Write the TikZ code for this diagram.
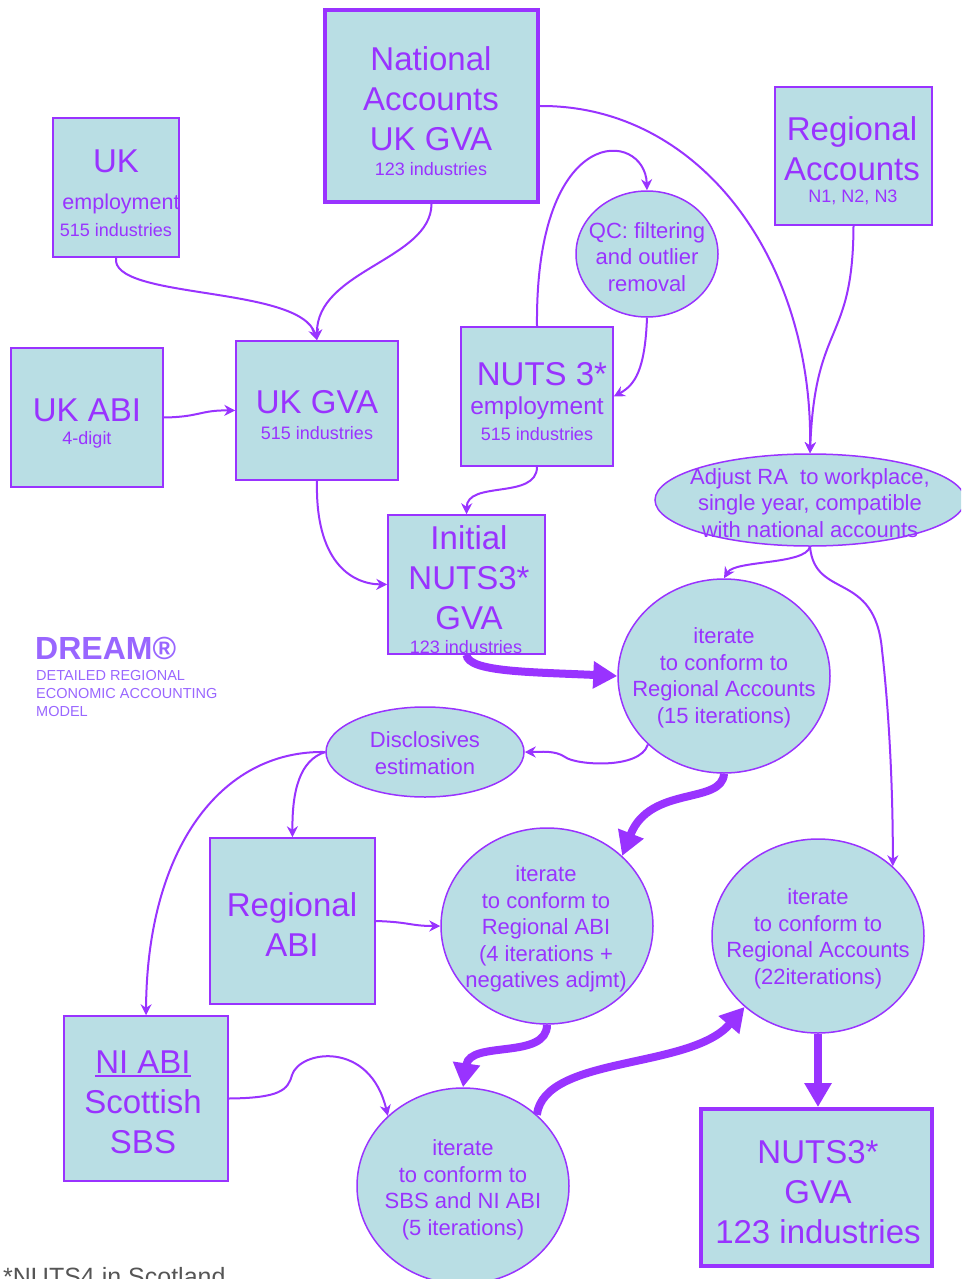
\documentclass[tikz,border=0pt]{standalone}
\usepackage{fontspec}
\setmainfont{Liberation Sans}
\usetikzlibrary{arrows.meta,shapes.geometric}
\definecolor{pur}{HTML}{9933FF}
\definecolor{fillb}{HTML}{B9DEE4}
\definecolor{dreamc}{HTML}{9966FF}
\definecolor{gry}{HTML}{555555}
\newcommand\fLg{\fontsize{33}{40}\selectfont}
\newcommand\fMd{\fontsize{22}{26.5}\selectfont}
\newcommand\fSm{\fontsize{18}{21}\selectfont}
\newcommand\myul[1]{\setbox0\hbox{#1}\rlap{\rule[-4pt]{\wd0}{2pt}}\box0}
\begin{document}
\begin{tikzpicture}[x=1pt,y=-1pt,
 box/.style={draw=pur, fill=fillb, line width=1.5pt, rectangle, inner sep=0pt},
 bigbox/.style={box, line width=4pt},
 oval/.style={draw=pur, fill=fillb, line width=1.5pt, ellipse, inner sep=0pt},
 txt/.style={text=pur, align=center, inner sep=0pt},
 conn/.style={draw=pur, line width=2pt, -{Stealth[length=11pt,width=11pt]}},
 fat/.style={draw=pur, line width=8pt, -{Triangle[length=24pt,width=26pt]}},
]
\useasboundingbox (0,0) rectangle (961,1279);
\clip (0,0) rectangle (961,1279);

% shapes
\node[bigbox, minimum width=213pt, minimum height=192pt] (na) at (431.5,106) {};
\node[box, minimum width=126pt, minimum height=139pt] (ukemp) at (116,187.5) {};
\node[box, minimum width=157pt, minimum height=138pt] (ra) at (853.5,156) {};
\node[oval, minimum width=142pt, minimum height=126pt] (qc) at (647,254) {};
\node[box, minimum width=152pt, minimum height=139pt] (ukabi) at (87,417.5) {};
\node[box, minimum width=162pt, minimum height=139pt] (ukgva) at (317,410.5) {};
\node[box, minimum width=152pt, minimum height=139pt] (ne) at (537,396.5) {};
\node[oval, minimum width=310pt, minimum height=92pt] (adj) at (810,500) {};
\node[box, minimum width=157pt, minimum height=139pt] (init) at (466.5,584.5) {};
\node[oval, minimum width=212pt, minimum height=194pt] (it15) at (724,676) {};
\node[oval, minimum width=198pt, minimum height=90pt] (disc) at (425,752) {};
\node[box, minimum width=165pt, minimum height=166pt] (rabi) at (292.5,921) {};
\node[oval, minimum width=212pt, minimum height=196pt] (itabi) at (547,926) {};
\node[oval, minimum width=212pt, minimum height=194pt] (it22) at (818,936) {};
\node[box, minimum width=164pt, minimum height=165pt] (niabi) at (146,1098.5) {};
\node[oval, minimum width=212pt, minimum height=196pt] (itsbs) at (463,1186) {};
\node[bigbox, minimum width=231pt, minimum height=157pt] (fin) at (816.5,1187.5) {};

% texts
\node[txt, font=\fLg] (naT) at (431,99) {National\\Accounts\\UK GVA};
\node[txt, font=\fSm] (naS) at (431,169) {123 industries};
\node[txt, font=\fLg] (ukempT) at (116,161) {UK};
\node[txt, font=\fontsize{21.5}{26}\selectfont] (ukempM) at (121,204) {employment};
\node[txt, font=\fSm] (ukempS) at (116,230) {515 industries};
\node[txt, font=\fLg] (raT) at (852,149) {Regional\\Accounts};
\node[txt, font=\fSm] (raS) at (853,197) {N1, N2, N3};
\node[txt, font=\fMd] (qcT) at (647,257) {QC: filtering\\and outlier\\removal};
\node[txt, font=\fLg] (ukabiT) at (87,410) {UK ABI};
\node[txt, font=\fSm] (ukabiS) at (87,440) {4-digit};
\node[txt, font=\fLg] (ukgvaT) at (317,402) {UK GVA};
\node[txt, font=\fSm] (ukgvaS) at (317,433) {515 industries};
\node[txt, font=\fLg] (neT) at (542,374) {NUTS 3*};
\node[txt, font=\fontsize{24.5}{29}\selectfont] (neM) at (537,408) {employment};
\node[txt, font=\fSm] (neS) at (537,434) {515 industries};
\node[txt, font=\fMd] (adjT) at (810,503) {Adjust RA\ \ to workplace,\\single year, compatible\\with national accounts};
\node[txt, font=\fLg] (initT) at (469,578) {Initial\\NUTS3*\\GVA};
\node[txt, font=\fSm] (initS) at (466,647) {123 industries};
\node[txt, font=\fMd] (it15T) at (724,678) {iterate\\to conform to\\Regional Accounts\\(15 iterations)};
\node[anchor=west, text=dreamc, inner sep=0pt, font=\bfseries\fontsize{32}{36}\selectfont] (dreamT) at (35,648) {DREAM®};
\node[anchor=west, text=dreamc, inner sep=0pt, align=left, font=\fontsize{14.5}{18}\selectfont] (dreamS) at (36,694) {DETAILED REGIONAL\\ECONOMIC ACCOUNTING\\MODEL};
\node[txt, font=\fMd] (discT) at (425,753) {Disclosives\\estimation};
\node[txt, font=\fLg] (rabiT) at (292,925) {Regional\\ABI};
\node[txt, font=\fMd] (itabiT) at (546,929) {iterate\\to conform to\\Regional ABI\\(4 iterations +\\negatives adjmt)};
\node[txt, font=\fMd] (it22T) at (818,939) {iterate\\to conform to\\Regional Accounts\\(22iterations)};
\node[txt, font=\fLg] (niabiT) at (143,1102) {\myul{NI ABI}\\Scottish\\SBS};
\node[txt, font=\fMd] (itsbsT) at (463,1190) {iterate\\to conform to\\SBS and NI ABI\\(5 iterations)};
\node[txt, font=\fLg] (finT) at (818,1192) {NUTS3*\\GVA\\123 industries};
\node[anchor=base west, text=gry, inner sep=0pt, font=\fontsize{25}{30}\selectfont] (foot) at (3,1285) {*NUTS4 in Scotland};

% thin connectors
\draw[conn] (na.south) .. controls (431,260) and (316,270) .. (ukgva.north);
\draw[conn] (ukemp.south) .. controls (110,300) and (300,285) .. (ukgva.north);
\draw[conn] (ukabi.east) .. controls (200,417) and (200,410) .. (ukgva.west);
\draw[conn] (na.east) .. controls (700,105) and (813,260) .. (adj.north);
\draw[conn] (ra.south) .. controls (853,345) and (815,320) .. (adj.north);
\draw[conn] (ne.north) .. controls (535,120) and (645,130) .. (qc.north);
\draw[conn] (qc.south) .. controls (645,370) and (635,385) .. (ne.east);
\draw[conn] (ne.south) .. controls (537,500) and (467,480) .. (init.north);
\draw[conn] (ukgva.south) .. controls (315,560) and (350,584) .. (init.west);
\draw[conn] (adj.south) .. controls (805,565) and (735,560) .. (it15.north);
\draw[conn] (adj.south) .. controls (815,600) and (875,570) .. (882,650) .. controls (890,720) and (893,800) .. (it22.43);
\draw[conn] (it15.222) .. controls (640,770) and (575,765) .. (565,757) .. controls (555,750) and (540,752) .. (disc.east);
\draw[conn] (disc.west) .. controls (300,760) and (292,790) .. (rabi.north);
\draw[conn] (disc.west) .. controls (220,750) and (147,850) .. (niabi.north);
\draw[conn] (rabi.east) .. controls (410,922) and (410,926) .. (itabi.west);
\draw[conn] (niabi.east) .. controls (280,1098) and (288,1090) .. (292,1075) .. controls (300,1050) and (370,1040) .. (itsbs.137);

% fat connectors
\draw[fat] (init.south) .. controls (468,672) and (530,672) .. (it15.west);
\draw[fat] (it15.south) .. controls (722,805) and (650,785) .. (itabi.43);
\draw[fat] (itabi.south) .. controls (547,1060) and (470,1040) .. (itsbs.north);
\draw[fat] (itsbs.44) .. controls (545,1055) and (690,1070) .. (it22.224);
\draw[fat] (it22.south) -- (it22.south |- fin.north);
\end{tikzpicture}
\end{document}
